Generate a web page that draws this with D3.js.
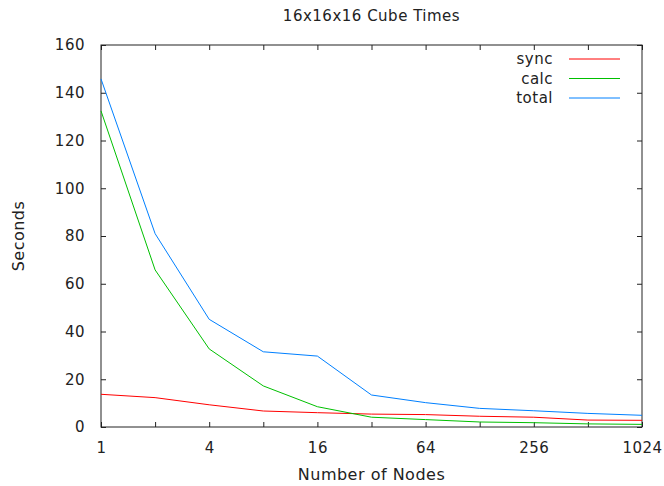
<!DOCTYPE html>
<html>
<head>
<meta charset="utf-8">
<script src="https://cdn.jsdelivr.net/npm/d3@7"></script>
<style>
  body { margin: 0; background: #fff; }
  text { font-family: "DejaVu Sans", sans-serif; fill: #222; letter-spacing: 0.5px; }
</style>
</head>
<body>
<div class="chart"></div>
<script>
const nodes = [1, 2, 4, 8, 16, 32, 64, 128, 256, 512, 1024];
const sync  = [13.7, 12.3, 9.3, 6.7, 6.0, 5.4, 5.2, 4.5, 4.1, 2.9, 2.8];
const calc  = [132.4, 65.8, 32.7, 17.2, 8.5, 4.1, 3.1, 2.1, 1.8, 1.3, 1.1];
const total = [145.8, 81.0, 45.1, 31.5, 29.7, 13.4, 10.2, 7.8, 6.8, 5.7, 4.9];
const xTicks = [1, 4, 16, 64, 256, 1024];
const yTicks = [0, 20, 40, 60, 80, 100, 120, 140, 160];

const series = [
  {name: 'sync',  values: sync,  color: '#ff0000'},
  {name: 'calc',  values: calc,  color: '#00c000'},
  {name: 'total', values: total, color: '#0080ff'}
];

const W = 664, H = 486;
const margin = {top: 45, left: 101, bottom: 59, right: 22};
const width = W - margin.left - margin.right;
const height = H - margin.top - margin.bottom;

let svg = d3.select('.chart').append('svg')
    .attr('width', W)
    .attr('height', H)
    .append('g')
    .attr('transform', 'translate(' + margin.left + ',' + margin.top + ')');

const x = d3.scaleLog().base(2)
    .domain([1, 1024])
    .range([0, width]);

const y = d3.scaleLinear()
    .domain([0, 160])
    .range([height, 0]);

// bottom axis: tick at every doubling, label only at powers of 4
const xBottom = svg.append('g')
    .attr('transform', `translate(0, ${height})`)
    .call(d3.axisBottom(x).tickValues(nodes).tickSize(-5).tickPadding(15)
        .tickFormat(d => xTicks.includes(d) ? d : ''));

const xTop = svg.append('g')
    .call(d3.axisTop(x).tickValues(nodes).tickSize(-5).tickFormat(''));

const yLeft = svg.append('g')
    .call(d3.axisLeft(y).tickValues(yTicks).tickSize(-5).tickPadding(16));

const yRight = svg.append('g')
    .attr('transform', `translate(${width}, 0)`)
    .call(d3.axisRight(y).tickValues(yTicks).tickSize(-5).tickFormat(''));

[xBottom, xTop, yLeft, yRight].forEach(a => {
  a.select('.domain').remove();
  a.selectAll('.tick line').attr('stroke', '#222');
  a.selectAll('text').attr('font-size', 15).attr('fill', '#222')
      .attr('font-family', '"DejaVu Sans", sans-serif');
});

svg.append('rect')
    .attr('width', width)
    .attr('height', height)
    .attr('fill', 'none')
    .attr('stroke', '#222')
    .attr('stroke-width', 1);

const line = d3.line()
    .x((d, i) => x(nodes[i]))
    .y(d => y(d));

svg.selectAll('.series')
    .data(series)
    .enter()
    .append('path')
    .attr('class', 'series')
    .attr('d', d => line(d.values))
    .attr('fill', 'none')
    .attr('stroke', d => d.color)
    .attr('stroke-width', 1);

// legend
const legend = svg.selectAll('.legend')
    .data(series)
    .enter()
    .append('g')
    .attr('transform', (d, i) => `translate(0, ${14 + i * 19.5})`);

legend.append('text')
    .attr('x', 452)
    .attr('dy', '0.35em')
    .attr('text-anchor', 'end')
    .attr('font-size', 15)
    .text(d => d.name);

legend.append('line')
    .attr('x1', 468)
    .attr('x2', 519)
    .attr('stroke', d => d.color)
    .attr('stroke-width', 1);

svg.append('text')
    .attr('x', width / 2)
    .attr('y', -24)
    .attr('text-anchor', 'middle')
    .attr('font-size', 15)
    .text('16x16x16 Cube Times');

svg.append('text')
    .attr('x', width / 2)
    .attr('y', height + 53)
    .attr('text-anchor', 'middle')
    .attr('font-size', 16)
    .text('Number of Nodes');

svg.append('text')
    .attr('transform', `translate(${-77}, ${height / 2}) rotate(-90)`)
    .attr('text-anchor', 'middle')
    .attr('font-size', 16)
    .text('Seconds');
</script>
</body>
</html>
